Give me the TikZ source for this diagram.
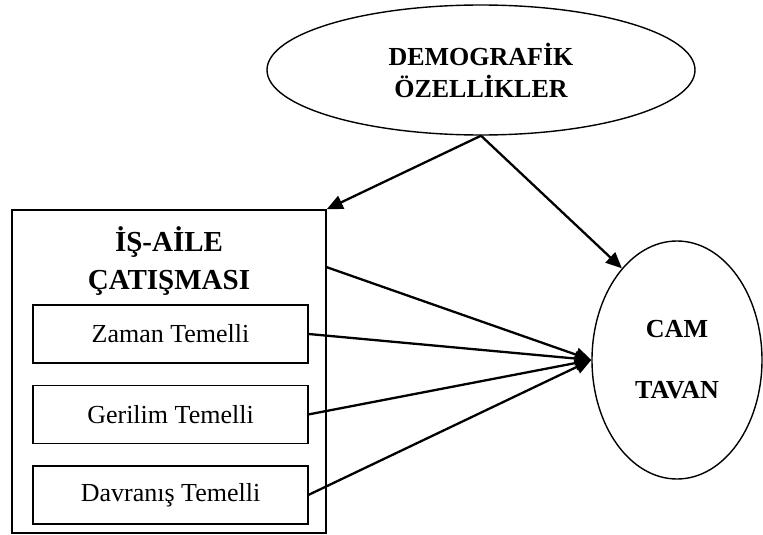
\documentclass[tikz,border=0pt]{standalone}
\usepackage{fontspec}
\setmainfont{Liberation Serif}
\usetikzlibrary{positioning,arrows.meta,shapes.geometric}

\begin{document}
\begin{tikzpicture}[x=1pt,y=-1pt,
  oval/.style={ellipse,draw,line width=1.4pt,inner sep=0pt,align=center},
  subbox/.style={rectangle,draw,line width=1.4pt,minimum width=275pt,minimum height=58pt,font=\fontsize{26}{30}\selectfont},
  link/.style={line width=2.3pt,-{Triangle[length=16pt,width=14pt]}}] %
    \useasboundingbox (0,0) rectangle (763,535) ; %
    \node[oval,minimum width=428pt,minimum height=130pt,font=\fontsize{26}{32}\selectfont\bfseries] (demog) at (481,70) {DEMOGRAFİK\\ÖZELLİKLER} ; %
    \node[draw,line width=1.6pt,minimum width=314pt,minimum height=323pt] (isaile) at (169,371.5) {} ; %
    \node[align=center,inner sep=0pt,font=\fontsize{29}{38}\selectfont\bfseries] (baslik) at (169,261) {İŞ-AİLE\\ÇATIŞMASI} ; %
    \node[subbox] (zaman) at (170.5,334) {Zaman Temelli} ; %
    \node[subbox,below=21pt of zaman] (gerilim) {Gerilim Temelli} ;
    \node[subbox,below=21pt of gerilim] (davranis) {Davranış Temelli} ;
    \node[oval,minimum width=170pt,minimum height=238pt,font=\fontsize{26}{61}\selectfont\bfseries] (cam) at (677,360) {CAM\\TAVAN} ; %
    \coordinate (cikis) at ([yshift=-58pt]isaile.north east) ;
    \draw[link] (demog.south)--(isaile.north east) ; %
    \draw[link] (demog.south)--(cam.121) ;
    \draw[link] (cikis)--(cam.west) ; %
    \draw[link] (zaman.east)--(cam.west) ;
    \draw[link] (gerilim.east)--(cam.west) ;
    \draw[link] (davranis.east)--(cam.west) ;
  \end{tikzpicture}
\end{document}
